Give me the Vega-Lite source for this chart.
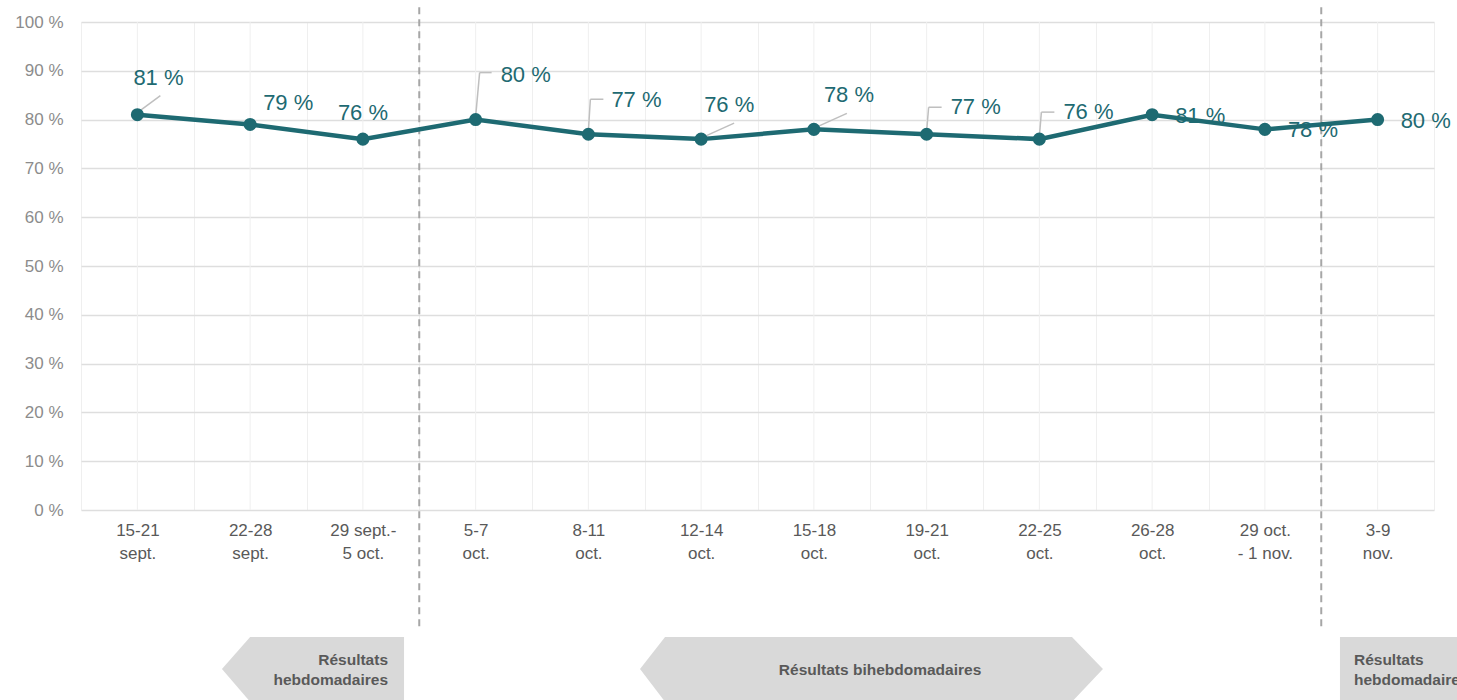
{
  "$schema": "https://vega.github.io/schema/vega-lite/v6.json",
  "autosize": "none",
  "width": 1353,
  "height": 488,
  "padding": {"left": 81, "top": 22, "right": 23, "bottom": 190},
  "background": "white",
  "config": {
    "view": {"stroke": null},
    "font": "Liberation Sans",
    "locale": {"number": {"decimal": ",", "thousands": " ", "grouping": [3], "currency": ["", " %"]}}
  },
  "datasets": {
    "main": [
      {"period": "15-21\nsept.", "value": 81},
      {"period": "22-28\nsept.", "value": 79},
      {"period": "29 sept.-\n5 oct.", "value": 76},
      {"period": "5-7\noct.", "value": 80},
      {"period": "8-11\noct.", "value": 77},
      {"period": "12-14\noct.", "value": 76},
      {"period": "15-18\noct.", "value": 78},
      {"period": "19-21\noct.", "value": 77},
      {"period": "22-25\noct.", "value": 76},
      {"period": "26-28\noct.", "value": 81},
      {"period": "29 oct.\n- 1 nov.", "value": 78},
      {"period": "3-9\nnov.", "value": 80}
    ],
    "shapes": [
      {"shape": "left", "x": 0.75, "top": -32.6, "bottom": -32.6},
      {"shape": "left", "x": 1.0, "top": -26.0, "bottom": -39.3},
      {"shape": "left", "x": 2.365, "top": -26.0, "bottom": -39.3},
      {"shape": "mid", "x": 4.458, "top": -32.6, "bottom": -32.6},
      {"shape": "mid", "x": 4.68, "top": -26.0, "bottom": -39.3},
      {"shape": "mid", "x": 8.289, "top": -26.0, "bottom": -39.3},
      {"shape": "mid", "x": 8.564, "top": -32.6, "bottom": -32.6},
      {"shape": "right", "x": 10.666, "top": -26.0, "bottom": -39.3},
      {"shape": "right", "x": 11.9, "top": -26.0, "bottom": -39.3}
    ]
  },
  "data": {"name": "main"},
  "resolve": {"scale": {"x": "independent"}},
  "layer": [
    {
      "layer": [
        {
          "mark": {"type": "rule", "color": "#efefef", "strokeWidth": 1},
          "encoding": {
            "x": {"field": "period", "type": "ordinal", "sort": null, "bandPosition": 0.5}
          }
        },
        {
          "transform": [{"filter": {"field": "period", "oneOf": ["5-7\noct.", "3-9\nnov."]}}],
          "mark": {"type": "rule", "color": "#a6a6a6", "strokeWidth": 2, "strokeDash": [7, 5], "clip": false},
          "encoding": {
            "x": {"field": "period", "type": "ordinal", "sort": null, "bandPosition": 0},
            "y": {"datum": 103, "type": "quantitative"},
            "y2": {"datum": -24.6}
          }
        },
        {
          "transform": [{"filter": {"field": "period", "oneOf": ["15-21\nsept."]}}],
          "mark": {"type": "rule", "color": "#bfbfbf", "strokeWidth": 1.5, "yOffset": -2, "x2Offset": 23, "y2Offset": -19},
          "encoding": {
            "x": {"field": "period", "type": "ordinal", "sort": null, "bandPosition": 0.5},
            "x2": {"field": "period"},
            "y": {"field": "value", "type": "quantitative"},
            "y2": {"field": "value"}
          }
        },
        {
          "transform": [{"filter": {"field": "period", "oneOf": ["12-14\noct.", "15-18\noct."]}}],
          "mark": {"type": "rule", "color": "#bfbfbf", "strokeWidth": 1.5, "xOffset": 2, "yOffset": -2, "x2Offset": 33, "y2Offset": -16},
          "encoding": {
            "x": {"field": "period", "type": "ordinal", "sort": null, "bandPosition": 0.5},
            "x2": {"field": "period"},
            "y": {"field": "value", "type": "quantitative"},
            "y2": {"field": "value"}
          }
        },
        {
          "transform": [{"filter": {"field": "period", "oneOf": ["5-7\noct."]}}],
          "mark": {"type": "rule", "color": "#bfbfbf", "strokeWidth": 1.5, "yOffset": -3, "x2Offset": 4, "y2Offset": -47},
          "encoding": {
            "x": {"field": "period", "type": "ordinal", "sort": null, "bandPosition": 0.5},
            "x2": {"field": "period"},
            "y": {"field": "value", "type": "quantitative"},
            "y2": {"field": "value"}
          }
        },
        {
          "transform": [{"filter": {"field": "period", "oneOf": ["5-7\noct."]}}],
          "mark": {"type": "rule", "color": "#bfbfbf", "strokeWidth": 1.5, "xOffset": 4, "yOffset": -47, "x2Offset": 16, "y2Offset": -47},
          "encoding": {
            "x": {"field": "period", "type": "ordinal", "sort": null, "bandPosition": 0.5},
            "x2": {"field": "period"},
            "y": {"field": "value", "type": "quantitative"},
            "y2": {"field": "value"}
          }
        },
        {
          "transform": [{"filter": {"field": "period", "oneOf": ["8-11\noct."]}}],
          "mark": {"type": "rule", "color": "#bfbfbf", "strokeWidth": 1.5, "yOffset": -3, "x2Offset": 2, "y2Offset": -35},
          "encoding": {
            "x": {"field": "period", "type": "ordinal", "sort": null, "bandPosition": 0.5},
            "x2": {"field": "period"},
            "y": {"field": "value", "type": "quantitative"},
            "y2": {"field": "value"}
          }
        },
        {
          "transform": [{"filter": {"field": "period", "oneOf": ["8-11\noct."]}}],
          "mark": {"type": "rule", "color": "#bfbfbf", "strokeWidth": 1.5, "xOffset": 2, "yOffset": -35, "x2Offset": 15, "y2Offset": -35},
          "encoding": {
            "x": {"field": "period", "type": "ordinal", "sort": null, "bandPosition": 0.5},
            "x2": {"field": "period"},
            "y": {"field": "value", "type": "quantitative"},
            "y2": {"field": "value"}
          }
        },
        {
          "transform": [{"filter": {"field": "period", "oneOf": ["19-21\noct.", "22-25\noct."]}}],
          "mark": {"type": "rule", "color": "#bfbfbf", "strokeWidth": 1.5, "yOffset": -3, "x2Offset": 2, "y2Offset": -27},
          "encoding": {
            "x": {"field": "period", "type": "ordinal", "sort": null, "bandPosition": 0.5},
            "x2": {"field": "period"},
            "y": {"field": "value", "type": "quantitative"},
            "y2": {"field": "value"}
          }
        },
        {
          "transform": [{"filter": {"field": "period", "oneOf": ["19-21\noct.", "22-25\noct."]}}],
          "mark": {"type": "rule", "color": "#bfbfbf", "strokeWidth": 1.5, "xOffset": 2, "yOffset": -27, "x2Offset": 15, "y2Offset": -27},
          "encoding": {
            "x": {"field": "period", "type": "ordinal", "sort": null, "bandPosition": 0.5},
            "x2": {"field": "period"},
            "y": {"field": "value", "type": "quantitative"},
            "y2": {"field": "value"}
          }
        },
        {
          "mark": {"type": "line", "color": "#1e6a72", "strokeWidth": 4.5},
          "encoding": {
            "x": {"field": "period", "type": "ordinal", "sort": null, "bandPosition": 0.5,
              "scale": {"type": "band", "paddingInner": 0, "paddingOuter": 0},
              "title": null,
              "axis": {
                "grid": true, "gridColor": "#efefef", "gridWidth": 1,
                "tickBand": "extent", "ticks": false,
                "domain": false,
                "labelAngle": 0,
                "labelAlign": "center",
                "labelExpr": "split(datum.label, '\\n')",
                "labelFont": "Liberation Sans", "labelFontSize": 17, "labelColor": "#595959",
                "labelLineHeight": 23, "labelPadding": 12, "labelBaseline": "top"
              }
            },
            "y": {"field": "value", "type": "quantitative",
              "scale": {"domain": [0, 100], "nice": false},
              "title": null,
              "axis": {
                "values": [0, 10, 20, 30, 40, 50, 60, 70, 80, 90, 100],
                "labelExpr": "datum.value + ' %'",
                "grid": true, "gridColor": "#dedede", "gridWidth": 1.5,
                "ticks": false, "domain": false,
                "labelFont": "Liberation Sans", "labelFontSize": 17, "labelColor": "#8c8c8c",
                "labelPadding": 18
              }
            }
          }
        },
        {
          "mark": {"type": "circle", "color": "#1e6a72", "size": 170, "opacity": 1},
          "encoding": {
            "x": {"field": "period", "type": "ordinal", "sort": null, "bandPosition": 0.5},
            "y": {"field": "value", "type": "quantitative"}
          }
        },
        {
          "transform": [{"filter": {"field": "period", "oneOf": ["15-21\nsept."]}}],
          "mark": {"type": "text", "align": "left", "baseline": "middle", "fontSize": 22, "color": "#1e6a72", "dx": -4, "dy": -37},
          "encoding": {
            "x": {"field": "period", "type": "ordinal", "sort": null, "bandPosition": 0.5},
            "y": {"field": "value", "type": "quantitative"},
            "text": {"field": "value", "type": "quantitative", "format": "$.0f"}
          }
        },
        {
          "transform": [{"filter": {"field": "period", "oneOf": ["22-28\nsept."]}}],
          "mark": {"type": "text", "align": "left", "baseline": "middle", "fontSize": 22, "color": "#1e6a72", "dx": 13, "dy": -21},
          "encoding": {
            "x": {"field": "period", "type": "ordinal", "sort": null, "bandPosition": 0.5},
            "y": {"field": "value", "type": "quantitative"},
            "text": {"field": "value", "type": "quantitative", "format": "$.0f"}
          }
        },
        {
          "transform": [{"filter": {"field": "period", "oneOf": ["29 sept.-\n5 oct."]}}],
          "mark": {"type": "text", "align": "left", "baseline": "middle", "fontSize": 22, "color": "#1e6a72", "dx": -25, "dy": -26},
          "encoding": {
            "x": {"field": "period", "type": "ordinal", "sort": null, "bandPosition": 0.5},
            "y": {"field": "value", "type": "quantitative"},
            "text": {"field": "value", "type": "quantitative", "format": "$.0f"}
          }
        },
        {
          "transform": [{"filter": {"field": "period", "oneOf": ["5-7\noct."]}}],
          "mark": {"type": "text", "align": "left", "baseline": "middle", "fontSize": 22, "color": "#1e6a72", "dx": 25, "dy": -45},
          "encoding": {
            "x": {"field": "period", "type": "ordinal", "sort": null, "bandPosition": 0.5},
            "y": {"field": "value", "type": "quantitative"},
            "text": {"field": "value", "type": "quantitative", "format": "$.0f"}
          }
        },
        {
          "transform": [{"filter": {"field": "period", "oneOf": ["8-11\noct."]}}],
          "mark": {"type": "text", "align": "left", "baseline": "middle", "fontSize": 22, "color": "#1e6a72", "dx": 23, "dy": -34},
          "encoding": {
            "x": {"field": "period", "type": "ordinal", "sort": null, "bandPosition": 0.5},
            "y": {"field": "value", "type": "quantitative"},
            "text": {"field": "value", "type": "quantitative", "format": "$.0f"}
          }
        },
        {
          "transform": [{"filter": {"field": "period", "oneOf": ["12-14\noct."]}}],
          "mark": {"type": "text", "align": "left", "baseline": "middle", "fontSize": 22, "color": "#1e6a72", "dx": 3, "dy": -34},
          "encoding": {
            "x": {"field": "period", "type": "ordinal", "sort": null, "bandPosition": 0.5},
            "y": {"field": "value", "type": "quantitative"},
            "text": {"field": "value", "type": "quantitative", "format": "$.0f"}
          }
        },
        {
          "transform": [{"filter": {"field": "period", "oneOf": ["15-18\noct."]}}],
          "mark": {"type": "text", "align": "left", "baseline": "middle", "fontSize": 22, "color": "#1e6a72", "dx": 10, "dy": -34},
          "encoding": {
            "x": {"field": "period", "type": "ordinal", "sort": null, "bandPosition": 0.5},
            "y": {"field": "value", "type": "quantitative"},
            "text": {"field": "value", "type": "quantitative", "format": "$.0f"}
          }
        },
        {
          "transform": [{"filter": {"field": "period", "oneOf": ["19-21\noct.", "22-25\noct."]}}],
          "mark": {"type": "text", "align": "left", "baseline": "middle", "fontSize": 22, "color": "#1e6a72", "dx": 24, "dy": -27},
          "encoding": {
            "x": {"field": "period", "type": "ordinal", "sort": null, "bandPosition": 0.5},
            "y": {"field": "value", "type": "quantitative"},
            "text": {"field": "value", "type": "quantitative", "format": "$.0f"}
          }
        },
        {
          "transform": [{"filter": {"field": "period", "oneOf": ["26-28\noct.", "29 oct.\n- 1 nov.", "3-9\nnov."]}}],
          "mark": {"type": "text", "align": "left", "baseline": "middle", "fontSize": 22, "color": "#1e6a72", "dx": 23, "dy": 1},
          "encoding": {
            "x": {"field": "period", "type": "ordinal", "sort": null, "bandPosition": 0.5},
            "y": {"field": "value", "type": "quantitative"},
            "text": {"field": "value", "type": "quantitative", "format": "$.0f"}
          }
        }
      ]
    },
    {
      "layer": [
        {
          "data": {"name": "shapes"},
          "mark": {"type": "area", "color": "#d9d9d9", "opacity": 1, "clip": false, "interpolate": "linear"},
          "encoding": {
            "x": {"field": "x", "type": "quantitative", "scale": {"domain": [-0.5, 11.5], "nice": false, "zero": false}, "axis": null},
            "y": {"field": "top", "type": "quantitative"},
            "y2": {"field": "bottom"},
            "detail": {"field": "shape"}
          }
        },
        {
          "data": {"values": [{"x": 2.223, "y": -30.7, "note": ["Résultats", "hebdomadaires"]}]},
          "mark": {"type": "text", "align": "right", "baseline": "middle", "fontSize": 15.5, "fontWeight": "bold", "color": "#595959", "lineHeight": 20, "clip": false},
          "encoding": {
            "x": {"field": "x", "type": "quantitative"},
            "y": {"field": "y", "type": "quantitative"},
            "text": {"field": "note"}
          }
        },
        {
          "data": {"values": [{"x": 6.587, "y": -32.8, "note": "Résultats bihebdomadaires"}]},
          "mark": {"type": "text", "align": "center", "baseline": "middle", "fontSize": 15.5, "fontWeight": "bold", "color": "#595959", "clip": false},
          "encoding": {
            "x": {"field": "x", "type": "quantitative"},
            "y": {"field": "y", "type": "quantitative"},
            "text": {"field": "note"}
          }
        },
        {
          "data": {"values": [{"x": 10.79, "y": -30.7, "note": ["Résultats", "hebdomadaires"]}]},
          "mark": {"type": "text", "align": "left", "baseline": "middle", "fontSize": 15.5, "fontWeight": "bold", "color": "#595959", "lineHeight": 20, "clip": false},
          "encoding": {
            "x": {"field": "x", "type": "quantitative"},
            "y": {"field": "y", "type": "quantitative"},
            "text": {"field": "note"}
          }
        }
      ]
    }
  ]
}
